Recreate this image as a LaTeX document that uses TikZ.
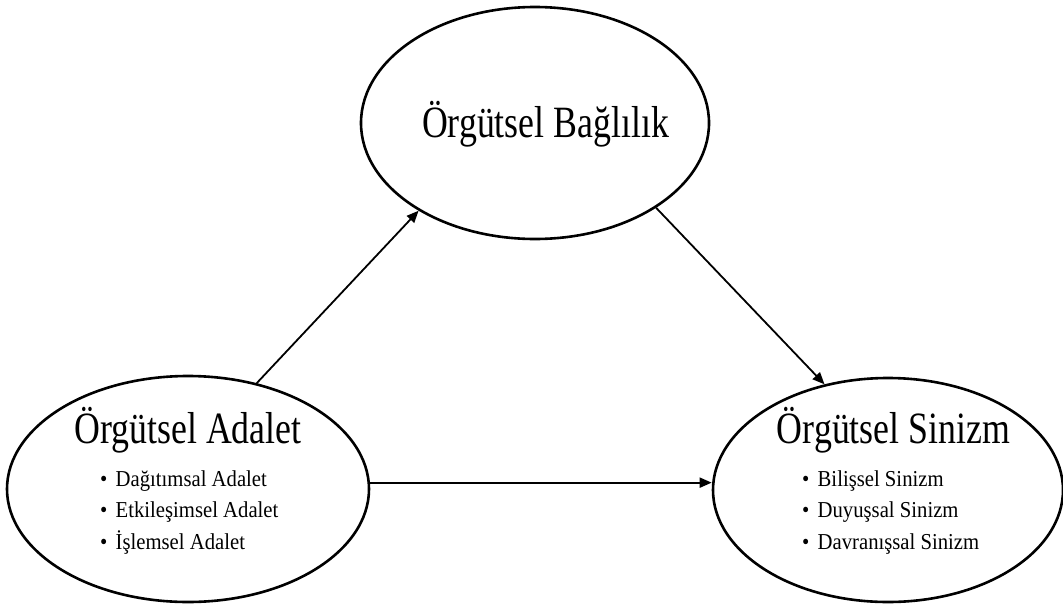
\documentclass[tikz,border=0pt]{standalone}
\usepackage{graphicx}
\usepackage{fontspec}
\setmainfont{Liberation Serif}
\usetikzlibrary{shapes.geometric,arrows.meta}
% text is set tall and narrow
\newcommand{\tallhead}[1]{\scalebox{1}[1.25]{#1}}
\newcommand{\tallitem}[1]{\scalebox{1}[1.1]{\makebox[15.5pt][l]{•}#1}}
\begin{document}
\begin{tikzpicture}[x=1pt,y=-1pt,
  oval/.style={draw,ellipse,line width=2.6pt,inner sep=0pt},
  title/.style={anchor=base,inner sep=0pt,font=\fontsize{35.8}{40}\selectfont},
  item/.style={anchor=base west,inner sep=0pt,font=\fontsize{20.7}{24}\selectfont},
  arr/.style={line width=1.8pt,-{Triangle[length=12pt,width=10pt]}}]
\useasboundingbox (0,0) rectangle (1063,608);

% the three constructs
\node[oval,minimum width=348pt,minimum height=232pt] (T) at (535,123) {};
\node[oval,minimum width=362pt,minimum height=226pt] (L) at (188,489) {};
\node[oval,minimum width=350pt,minimum height=224pt] (R) at (888,490) {};

% titles
\node[title] (Tt) at (545.5,137) {\tallhead{Örgütsel Bağlılık}};
\node[title] (Lt) at (188,443) {\tallhead{Örgütsel Adalet}};
\node[title] (Rt) at (893.5,443) {\tallhead{Örgütsel Sinizm}};

% sub-dimensions
\node[item] (L1) at (100,486) {\tallitem{Dağıtımsal Adalet}};
\node[item] (L2) at (100,517.5) {\tallitem{Etkileşimsel Adalet}};
\node[item] (L3) at (100,549) {\tallitem{İşlemsel Adalet}};
\node[item] (R1) at (802,486) {\tallitem{Bilişsel Sinizm}};
\node[item] (R2) at (802,517.5) {\tallitem{Duyuşsal Sinizm}};
\node[item] (R3) at (802,549) {\tallitem{Davranışsal Sinizm}};

% relations
\draw[arr] (L.57.8) -- (T.217.6);
\draw[arr] (T.325.7) -- (R.121.6);
\draw[arr] (L.2) -- (L.2 -| R.west);
\end{tikzpicture}
\end{document}
